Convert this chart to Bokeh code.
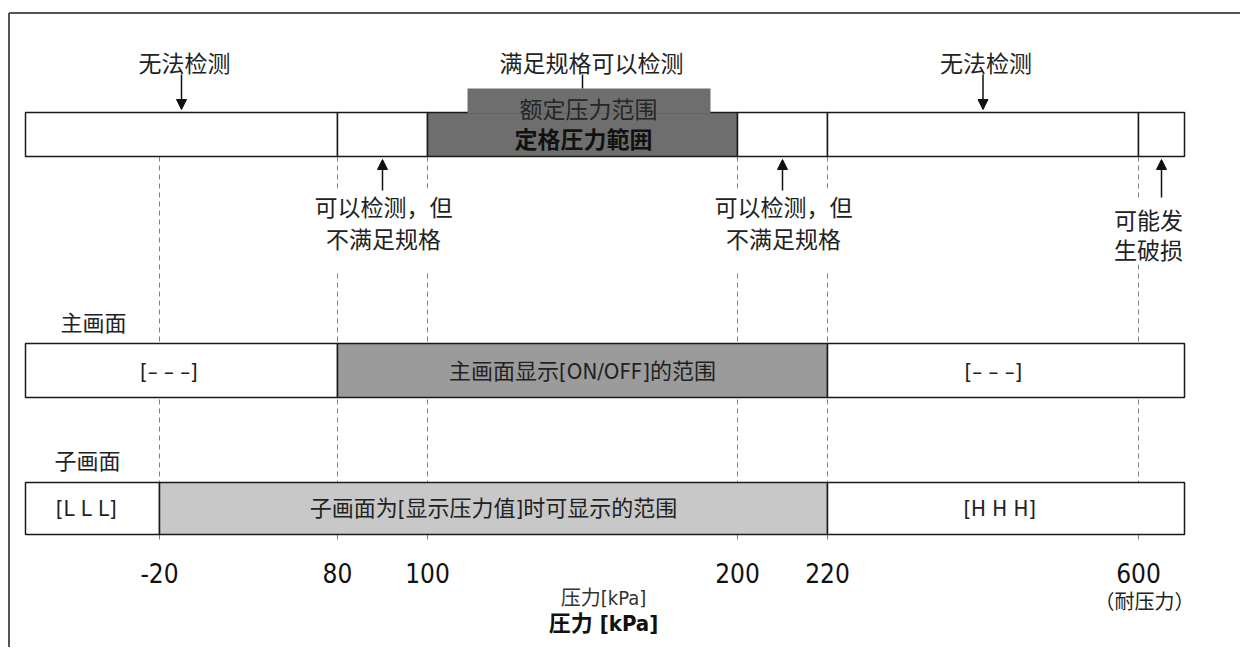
from bokeh.plotting import figure
from bokeh.models import Range1d, Arrow, NormalHead
from bokeh.core.properties import value
from bokeh.embed import file_html
from bokeh.resources import INLINE

# ---------------- data ----------------
tick_values = [-20, 80, 100, 200, 220, 600]
tick_labels = ["-20", "80", "100", "200", "220", "600"]

# row 1 : detection ranges
det_starts = ["lo", 80, 100, 200, 220, 600]
det_ends = [80, 100, 200, 220, 600, "hi"]
det_kind = ["none", "out", "rated", "out", "none", "break"]

# row 2 : main screen
main_starts = ["lo", 80, 220]
main_ends = [80, 220, "hi"]
main_labels = ["[–   –   –]", "主画面显示[ON/OFF]的范围", "[–   –   –]"]

# row 3 : sub screen
sub_starts = ["lo", -20, 220]
sub_ends = [-20, 220, "hi"]
sub_labels = ["[L  L  L]", "子画面为[显示压力值]时可显示的范围", "[H  H  H]"]

# ---------------- schematic (non-linear) axis layout ----------------
XPOS = {"lo": 25, -20: 159, 80: 337, 100: 427, 200: 737, 220: 827, 600: 1138, "hi": 1184}
def X(v):
    return XPOS[v]

ROW1 = (112, 156)
ROW2 = (343, 397)
ROW3 = (482, 534)

NARROW = value("DejaVu Sans Condensed, Liberation Sans Narrow, Noto Sans CJK SC")
CJK = value("Noto Sans CJK SC")
CJKJP = value("Noto Sans CJK JP")
INK = "#222222"

p = figure(width=1240, height=647, output_backend="svg", toolbar_location=None,
           x_range=Range1d(0, 1240), y_range=Range1d(647, 0),
           min_border=0, outline_line_color=None)
p.axis.visible = False
p.grid.visible = False
p.background_fill_color = "white"
p.border_fill_color = "white"

# frame
p.segment(x0=[8.5, 8.5], y0=[12.5, 12.5], x1=[8.5, 1260], y1=[700, 12.5],
          line_color="#555555", line_width=2)

# dashed guide lines
p.segment(x0=[X(v) for v in tick_values], y0=[ROW1[1]] * len(tick_values),
          x1=[X(v) for v in tick_values], y1=[541] * len(tick_values),
          line_color="#808080", line_width=1, line_dash="5 4")

# ---- row 1 ----
fill_map = {"none": "white", "out": "white", "rated": "#6e6e6e", "break": "white"}
p.quad(left=[X(s) for s in det_starts], right=[X(e) for e in det_ends],
       top=[ROW1[0]] * len(det_starts), bottom=[ROW1[1]] * len(det_starts),
       fill_color=[fill_map[k] for k in det_kind], line_color="#1a1a1a", line_width=1.5)
ri = det_kind.index("rated")
rated_c = (X(det_starts[ri]) + X(det_ends[ri])) / 2
# raised tab
p.quad(left=[467], right=[710], top=[88], bottom=[113], fill_color="#6e6e6e", line_color=None)
p.text(x=[588], y=[107], text=["额定压力范围"], text_font=CJK, text_font_size="23px",
       text_color="#262626", text_align="center", text_baseline="middle")
p.text(x=[583], y=[137], text=["定格圧力範囲"], text_font=CJKJP, text_font_size="23px",
       text_font_style="bold", text_color="#111111", text_align="center", text_baseline="middle")
p.text(x=[591], y=[61], text=["满足规格可以检测"], text_font=CJK, text_font_size="23px",
       text_color=INK, text_align="center", text_baseline="middle")
p.segment(x0=[rated_c], y0=[74], x1=[rated_c], y1=[88], line_color="#111111", line_width=1.5)

head = dict(size=10, fill_color="#111111", line_color="#111111")
for s, e, k in zip(det_starts, det_ends, det_kind):
    c = (X(s) + X(e)) / 2
    if k == "none":
        p.text(x=[c + 3], y=[61], text=["无法检测"], text_font=CJK, text_font_size="23px",
               text_color=INK, text_align="center", text_baseline="middle")
        p.add_layout(Arrow(end=NormalHead(**head), x_start=c, y_start=74, x_end=c, y_end=109,
                           line_color="#111111", line_width=1.5))
    elif k == "out":
        p.add_layout(Arrow(end=NormalHead(**head), x_start=c, y_start=190, x_end=c, y_end=159,
                           line_color="#111111", line_width=1.5))
        p.quad(left=[c - 73], right=[c + 73], top=[188], bottom=[270],
               fill_color="white", line_color=None)
        p.text(x=[c + 1, c + 1], y=[205, 237], text=["可以检测，但", "不满足规格"], text_font=CJK,
               text_font_size="23px", text_color=INK, text_align="center", text_baseline="middle")
    elif k == "break":
        p.add_layout(Arrow(end=NormalHead(**head), x_start=c, y_start=197, x_end=c, y_end=159,
                           line_color="#111111", line_width=1.5))
        p.quad(left=[c - 52], right=[c + 26], top=[200], bottom=[264],
               fill_color="white", line_color=None)
        p.text(x=[c - 13, c - 13], y=[218, 248], text=["可能发", "生破损"], text_font=CJK,
               text_font_size="23px", text_color=INK, text_align="center", text_baseline="middle")

# ---- row 2 : main screen ----
p.text(x=[93], y=[320], text=["主画面"], text_font=CJK, text_font_size="22px",
       text_color=INK, text_align="center", text_baseline="middle")
p.quad(left=[X(s) for s in main_starts], right=[X(e) for e in main_ends],
       top=[ROW2[0]] * 3, bottom=[ROW2[1]] * 3,
       fill_color=["white", "#9b9b9b", "white"], line_color="#1a1a1a", line_width=1.5)
p.text(x=[(X(s) + X(e)) / 2 for s, e in zip(main_starts, main_ends)], y=[371] * 3,
       text=main_labels, text_font=NARROW, text_font_size="22px", text_color=INK,
       text_align="center", text_baseline="middle")

# ---- row 3 : sub screen ----
p.text(x=[87], y=[458], text=["子画面"], text_font=CJK, text_font_size="22px",
       text_color=INK, text_align="center", text_baseline="middle")
p.quad(left=[X(s) for s in sub_starts], right=[X(e) for e in sub_ends],
       top=[ROW3[0]] * 3, bottom=[ROW3[1]] * 3,
       fill_color=["white", "#c8c8c8", "white"], line_color="#1a1a1a", line_width=1.5)
p.text(x=[(X(s) + X(e)) / 2 for s, e in zip(sub_starts, sub_ends)], y=[508] * 3,
       text=sub_labels, text_font=NARROW, text_font_size="22px", text_color=INK,
       text_align="center", text_baseline="middle")

# ---- tick labels & axis title ----
p.text(x=[X(v) for v in tick_values], y=[572] * len(tick_values), text=tick_labels,
       text_font=NARROW, text_font_size="26px", text_color="#111111",
       text_align="center", text_baseline="middle")
p.text(x=[1144], y=[600], text=["（耐压力）"], text_font=CJK, text_font_size="20px",
       text_color=INK, text_align="center", text_baseline="middle")
p.text(x=[603], y=[597], text=["压力[kPa]"], text_font=NARROW, text_font_size="20px",
       text_color="#333333", text_align="center", text_baseline="middle")
p.text(x=[603], y=[623], text=["圧力 [kPa]"], text_font=value("DejaVu Sans Condensed, Noto Sans CJK JP"),
       text_font_size="22px", text_font_style="bold", text_color="#111111",
       text_align="center", text_baseline="middle")

open("out.html", "w").write(file_html(p, INLINE))
